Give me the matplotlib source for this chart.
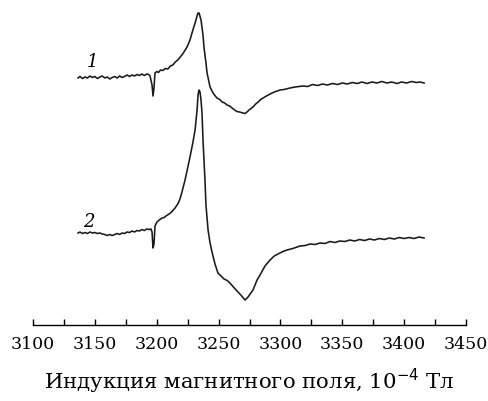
import matplotlib.pyplot as plt
from matplotlib.ticker import MultipleLocator

# Magnetic field, 10^-4 T, and signal (a.u.)
field_1 = [3136.4, 3138, 3140, 3142, 3144, 3146, 3148, 3150, 3152, 3154,
           3156, 3158, 3160, 3162, 3164, 3166, 3168, 3170, 3172, 3174,
           3176, 3178, 3180, 3182, 3184, 3186, 3188, 3190, 3192, 3193.5,
           3194.6, 3196.2, 3197.0, 3197.8, 3198.6, 3200.2, 3201.5, 3203, 3205, 3207,
           3209, 3211, 3213, 3215, 3217, 3219, 3221, 3222.5, 3224.5, 3226.9,
           3228.5, 3231.0, 3232.6, 3233.4, 3234.2, 3235.8, 3237.4, 3238.2, 3239.8, 3240.7,
           3243.1, 3245.5, 3247, 3248.7, 3251, 3252.8, 3255, 3256.8, 3259, 3260.9,
           3263, 3264.9, 3267, 3269.8, 3271.4, 3273, 3274.6, 3277.8, 3280, 3282,
           3284, 3286, 3288, 3291.6, 3295, 3299.7, 3303, 3307.7, 3312, 3318,
           3322, 3326, 3330, 3334, 3338, 3342, 3346, 3350, 3354, 3358,
           3362, 3366, 3370, 3374, 3378, 3382, 3386, 3390, 3394, 3398,
           3402, 3406, 3410, 3413, 3416.1]
signal_1 = [0, 1.5, -0.5, 1, 0, 2, 0.5, 1.5, -0.5, 1,
            2, 0, 1, -1, 0.5, 1.5, 0, 2, 0.5, 1.5,
            3, 1.5, 3, 2, 3.5, 2.5, 4, 2.5, 4, 3.5,
            2, -7, -18, -10, 5, 6.5, 5.5, 8, 7.5, 9.5,
            9, 12, 13, 16, 18, 21, 24, 27, 31, 38,
            45, 55, 62, 65, 65, 58, 43, 31, 15, 5,
            -9, -15, -17.5, -20, -21.5, -24, -25, -27, -28, -30,
            -32, -33.5, -34, -35, -35.5, -34, -32, -29, -26, -24,
            -21.5, -20, -18.5, -16, -14, -12, -11.5, -10, -9, -8,
            -8.5, -6.5, -7.5, -6, -7, -5.5, -6.5, -5, -6, -4.5,
            -5.5, -4, -5.5, -4, -5, -3.5, -5, -4, -5.5, -4,
            -5, -3.5, -4.5, -4, -5]

field_2 = [3136.4, 3138, 3140, 3142, 3144, 3146, 3148, 3150, 3152, 3154,
           3156, 3158, 3160, 3162, 3164, 3166, 3168, 3170, 3172, 3174,
           3176, 3178, 3180, 3182, 3184, 3186, 3188, 3190, 3192, 3194,
           3195.4, 3196.2, 3197.0, 3197.8, 3198.6, 3200.2, 3202, 3204.3, 3206, 3208,
           3210, 3212, 3214.8, 3217, 3218.8, 3220.4, 3222.9, 3226.9, 3229.3, 3231.0,
           3232.6, 3233.4, 3234.2, 3235.0, 3235.8, 3236.6, 3237.4, 3238.2, 3239.0, 3239.8,
           3241.5, 3243.1, 3244.7, 3247.1, 3249.5, 3252, 3254.4, 3257, 3259.2, 3262,
           3264.9, 3268, 3271.4, 3273.8, 3277.8, 3281.1, 3283.5, 3287.5, 3291.6, 3295,
           3298, 3302, 3305.3, 3310, 3315.8, 3320, 3324, 3328, 3332, 3336,
           3340, 3344, 3348, 3352, 3356, 3360, 3364, 3368, 3372, 3376,
           3380, 3384, 3388, 3392, 3396, 3400, 3404, 3408, 3412, 3416.1]
signal_2 = [0, 1, -0.5, 0.5, -0.5, 1, 0, 0.5, -0.5, 0,
            -1, -1.5, -2.5, -1.5, -2.5, -1.5, -0.5, -1.5, 0, -0.5,
            1, 0.5, 2, 1, 2.5, 2, 3.5, 2.5, 4, 3.5,
            4, 1, -15, -11, 7, 11, 13, 15, 15.5, 17.5,
            19, 21, 25, 29, 34, 41, 53, 76, 91, 103,
            123, 138, 143, 141, 133, 120, 93, 73, 53, 28,
            3, -10, -19, -31, -40, -43, -46, -47.5, -50, -54,
            -58, -62, -67, -64, -57, -47, -42, -33, -27, -23,
            -21, -18.5, -17, -15.5, -13, -12.5, -11, -11.5, -10, -10.5,
            -8.5, -9.5, -8, -8.5, -7, -8, -6.5, -7.5, -6, -7,
            -5.5, -6.5, -5, -6, -4.5, -5.5, -4.5, -5.5, -4, -5]

offset_1 = 247
offset_2 = 92
xticks = [3100, 3150, 3200, 3250, 3300, 3350, 3400, 3450]

plt.rcParams["font.family"] = ["DejaVu Serif"]

fig = plt.figure(figsize=(4.89, 4.01), dpi=100)
ax = fig.add_axes([0.0675, 0.1895, 0.8855, 0.8105])

ax.plot(field_1, [s + offset_1 for s in signal_1], color="#1a1a1a", lw=1.15)
ax.plot(field_2, [s + offset_2 for s in signal_2], color="#1a1a1a", lw=1.15)

ax.text(3148, 263, "1", fontsize=13, style="italic", ha="center", va="center")
ax.text(3145, 103, "2", fontsize=13, style="italic", ha="center", va="center")

ax.set_xlim(3100, 3450)
ax.set_ylim(0, 325)
ax.set_xticks(xticks)
ax.xaxis.set_minor_locator(MultipleLocator(25))
ax.tick_params(axis="x", which="both", direction="in", length=4, width=1, labelsize=12.5, pad=8)
ax.set_yticks([])
for side in ["left", "right", "top"]:
    ax.spines[side].set_visible(False)
ax.spines["bottom"].set_linewidth(1)

ax.set_xlabel("Индукция магнитного поля, 10$^{-4}$ Тл", fontsize=15.3, labelpad=10)

fig.savefig("out.png", dpi=100)
